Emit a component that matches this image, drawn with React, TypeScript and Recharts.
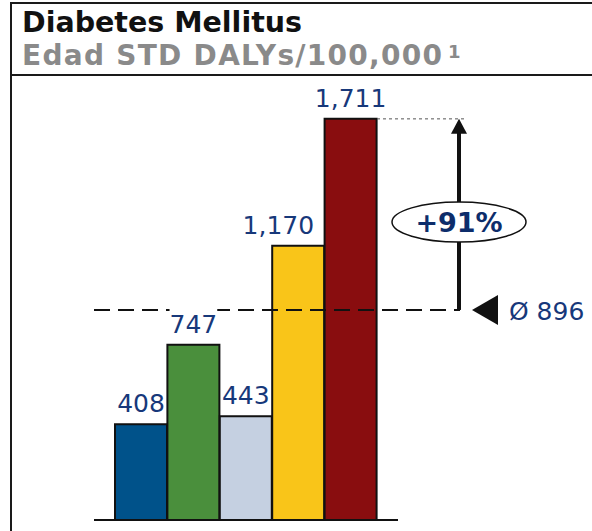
import React from "react";
import { Bar, BarChart, Cell, LabelList, ReferenceArea, ReferenceLine, XAxis, YAxis } from "recharts";

const regions = ["Región 1", "Región 2", "Región 3", "Región 4", "Región 5"];
const dalys = [408, 747, 443, 1170, 1711];
const barColors = ["#00528a", "#4a8f3c", "#c5d0e1", "#f9c519", "#890d0f"];
const average = 896;
const yTicks = [0, 1800];

const TITLE = "Diabetes Mellitus";
const SUBTITLE = "Edad STD DALYs/100,000";
const FOOTNOTE = "1";

const FONT = "'DejaVu Sans', Verdana, sans-serif";
const NAVY = "#17387a";
const INK = "#111";

const data = regions.map((name, i) => ({ name, value: dalys[i] }));
const peak = Math.max(...dalys);
const growth = Math.round((peak / average - 1) * 100);

const fmt = (v: number) => new Intl.NumberFormat("en-US").format(v);

// rough DejaVu width at 25px, used for the white box behind labels
const textWidth = (s: string) =>
  s.split("").reduce((w, c) => w + (c === "," ? 8 : 15.9), 0);

const ValueLabel = (props: any) => {
  const { x, y, width, value, index } = props;
  const text = fmt(value);
  const w = textWidth(text);
  let cx = x + width / 2;
  // wide label next to a taller bar: pull it left so it doesn't run into it
  const next = dalys[index + 1];
  if (w > width && next !== undefined && next > value) {
    cx = x + width - 10 - w / 2;
  }
  return (
    <g>
      <rect x={cx - w / 2} y={y - 36} width={w} height={28} fill="#fff" />
      <text x={cx} y={y - 12} textAnchor="middle" fill={NAVY} fontSize={25} fontFamily={FONT}>
        {text}
      </text>
    </g>
  );
};

const AverageLine = (props: any) => {
  const { x1, x2, y1 } = props;
  const y = y1;
  return (
    <g>
      <line x1={x1} y1={y} x2={x2 + 62} y2={y} stroke={INK} strokeWidth={2} strokeDasharray="16 8" />
      <polygon points={`${x2 + 74},${y} ${x2 + 100},${y - 15} ${x2 + 100},${y + 15}`} fill={INK} />
      <text x={x2 + 111} y={y + 10} fill={NAVY} fontSize={25} fontFamily={FONT}>
        {`Ø ${fmt(average)}`}
      </text>
    </g>
  );
};

const PeakLine = (props: any) => {
  const { x2, y1 } = props;
  return <line x1={x2 - 21} y1={y1} x2={x2 + 69} y2={y1} stroke="#555" strokeWidth={1} strokeDasharray="3 3" />;
};

const GrowthArrow = (props: any) => {
  const { x, y, width, height } = props;
  const ax = x + width + 82;
  const cy = y + height * 0.54;
  return (
    <g>
      <line x1={ax} y1={y + height} x2={ax} y2={y + 14} stroke={INK} strokeWidth={4} />
      <polygon points={`${ax},${y} ${ax - 8},${y + 15} ${ax + 8},${y + 15}`} fill={INK} />
      <ellipse cx={ax} cy={cy} rx={67} ry={20} fill="#fff" stroke={INK} strokeWidth={1.5} />
      <text x={ax} y={cy + 10} textAnchor="middle" fill="#0d2d6b" fontSize={27} fontWeight="bold" fontFamily={FONT}>
        {`+${growth}%`}
      </text>
    </g>
  );
};

export default function App() {
  return (
    <div style={{ position: "absolute", left: 0, top: 0, width: 592, height: 531, overflow: "hidden", background: "#fff" }}>
      <svg width={592} height={531} style={{ position: "absolute", left: 0, top: 0 }}>
        <rect x={10} y={2} width={2} height={531} fill="#1a1a1a" />
        <rect x={10} y={2} width={582} height={2} fill="#1a1a1a" />
        <rect x={10} y={74} width={582} height={2} fill="#1a1a1a" />
        <text
          x={22}
          y={32}
          fontSize={28}
          fontWeight="bold"
          fill={INK}
          fontFamily={FONT}
          textLength={280}
          lengthAdjust="spacingAndGlyphs"
        >
          {TITLE}
        </text>
        <text
          x={22}
          y={65}
          fontSize={28}
          fontWeight="bold"
          fill="#8a8a8a"
          fontFamily={FONT}
          textLength={420}
          lengthAdjust="spacing"
        >
          {SUBTITLE}
        </text>
        <text x={448} y={58} fontSize={18} fontWeight="bold" fill="#8a8a8a" fontFamily={FONT}>
          {FOOTNOTE}
        </text>
      </svg>
      <div style={{ position: "absolute", left: 0, top: 0 }}>
        <BarChart
          width={592}
          height={531}
          data={data}
          margin={{ top: 98, right: 194, bottom: 10, left: 94 }}
          barCategoryGap={0}
        >
          <XAxis
            dataKey="name"
            height={1}
            tick={false}
            tickLine={false}
            axisLine={{ stroke: INK, strokeWidth: 2 }}
            padding={{ left: 21, right: 21 }}
          />
          <YAxis hide domain={[yTicks[0], yTicks[1]]} ticks={yTicks} />
          <ReferenceLine y={average} shape={AverageLine} />
          <ReferenceLine y={peak} shape={PeakLine} />
          <ReferenceArea y1={average} y2={peak} shape={GrowthArrow} />
          <Bar dataKey="value" stroke={INK} strokeWidth={2} isAnimationActive={false}>
            {data.map((d, i) => (
              <Cell key={d.name} fill={barColors[i]} />
            ))}
            <LabelList dataKey="value" content={ValueLabel} />
          </Bar>
        </BarChart>
      </div>
    </div>
  );
}
